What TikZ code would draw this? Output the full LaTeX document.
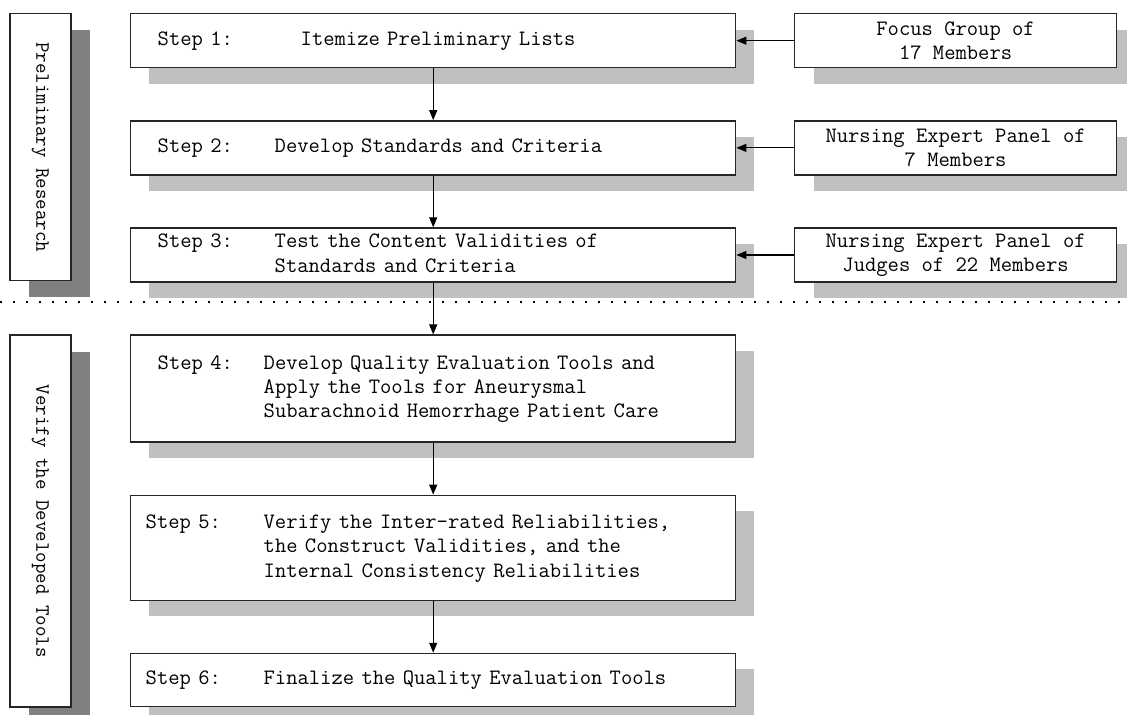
\documentclass[tikz,border=0pt]{standalone}
\usepackage{graphicx}
\usetikzlibrary{positioning, arrows.meta, shadows}

\newcommand{\steptext}[4]{\hspace*{#1}\makebox[#2][l]{#3}\begin{tabular}[t]{@{}l@{}}#4\end{tabular}}

\begin{document}
\begin{tikzpicture}[
            node distance=1.035cm and 1.15cm,
            font=\fontsize{12.5}{13.9}\selectfont\ttfamily,
            stepbox/.style={rectangle, draw=black!85, line width=0.8pt, fill=white, minimum width=12.1cm, text width=12.1cm, inner xsep=0pt, inner ysep=1pt, align=left, drop shadow={shadow xshift=0.37cm, shadow yshift=-0.32cm, fill=gray!50, opacity=1}},
            sidebox/.style={rectangle, draw=black!85, line width=0.8pt, fill=white, minimum width=6.44cm, minimum height=1.08cm, inner ysep=1pt, align=center, drop shadow={shadow xshift=0.38cm, shadow yshift=-0.32cm, fill=gray!50, opacity=1}},
            phasebox/.style={rectangle, draw=black!85, line width=0.8pt, fill=white, minimum width=1.22cm, inner sep=0pt, font=\fontsize{11.6}{13}\selectfont\ttfamily, drop shadow={shadow xshift=0.38cm, shadow yshift=-0.33cm, fill=gray, opacity=1}},
            arrow/.style={-{Triangle[length=0.2cm, width=0.16cm]}, line width=0.6pt},
            sepline/.style={line width=1pt, dash pattern=on 1pt off 6.4pt}
        ]
        \useasboundingbox (0,0) rectangle (22.54,-14.3);

        % Define the steps as nodes
        \node[stepbox, minimum height=1.08cm, anchor=north west] (step1) at (2.6,-0.26) {\steptext{0.54cm}{2.86cm}{Step 1:}{Itemize Preliminary Lists}};
        \node[stepbox, minimum height=1.08cm, below=of step1] (step2) {\steptext{0.54cm}{2.34cm}{Step 2:}{Develop Standards and Criteria}};
        \node[stepbox, minimum height=1.08cm, below=of step2] (step3) {\steptext{0.54cm}{2.34cm}{Step 3:}{Test the Content Validities of\\Standards and Criteria}};
        \node[stepbox, minimum height=2.14cm, below=of step3] (step4) {\steptext{0.54cm}{2.12cm}{Step 4:}{Develop Quality Evaluation Tools and\\Apply the Tools for Aneurysmal\\Subarachnoid Hemorrhage Patient Care}};
        \node[stepbox, minimum height=2.1cm, below=of step4] (step5) {\steptext{0.3cm}{2.36cm}{Step 5:}{Verify the Inter-rated Reliabilities,\\the Construct Validities, and the\\Internal Consistency Reliabilities}};
        \node[stepbox, minimum height=1.06cm, below=of step5] (step6) {\steptext{0.3cm}{2.36cm}{Step 6:}{Finalize the Quality Evaluation Tools}};

        % Define the panels on the right
        \node[sidebox, right=of step1] (focus) {Focus Group of\\17 Members};
        \node[sidebox, right=of step2] (panel) {Nursing Expert Panel of\\7 Members};
        \node[sidebox, right=of step3] (judges) {Nursing Expert Panel of\\Judges of 22 Members};

        % Define the phases on the left
        \node[phasebox, minimum height=5.34cm, left=1.17cm of step1.north west, anchor=north east] (prelim) {\rotatebox{-90}{Preliminary Research}};
        \node[phasebox, minimum height=7.44cm, left=1.17cm of step4.north west, anchor=north east] (verify) {\rotatebox{-90}{Verify the Developed Tools}};

        % Separate the two phases
        \coordinate (sepL) at (0,-6.04);
        \coordinate (sepR) at (22.54,-6.04);
        \draw[sepline] (sepL) -- (sepR);

        % Draw the arrows connecting the steps
        \draw[arrow] (step1) -- (step2);
        \draw[arrow] (step2) -- (step3);
        \draw[arrow] (step3) -- (step4);
        \draw[arrow] (step4) -- (step5);
        \draw[arrow] (step5) -- (step6);
        \draw[arrow] (focus) -- (step1);
        \draw[arrow] (panel) -- (step2);
        \draw[arrow] (judges) -- (step3);
    \end{tikzpicture}
\end{document}
